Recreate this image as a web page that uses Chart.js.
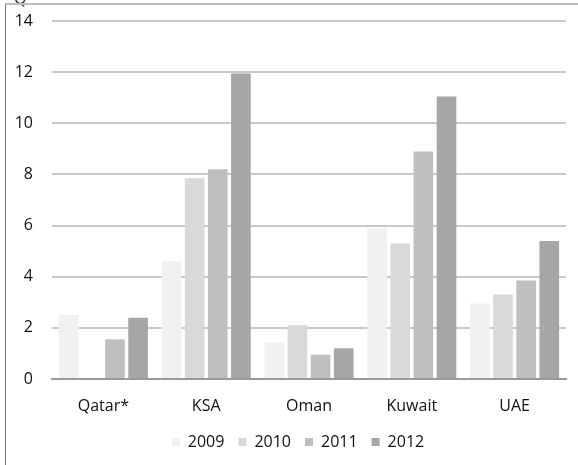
<!DOCTYPE html>
<html>
<head>
<meta charset="utf-8">
<script src="https://cdn.jsdelivr.net/npm/chart.js@4.4.1/dist/chart.umd.min.js"></script>
<style>
  body { margin: 0; background: #fff; overflow: hidden; }
  #wrap { position: relative; width: 578px; height: 465px; }
  #frame {
    position: absolute; left: 5px; top: 3px; width: 573px; height: 462px;
    border-left: 1px solid #777; border-top: 2px solid #bdbdbd;
  }
  #cut { position: absolute; left: 14px; top: -13px; font: 16px "Open Sans"; color: #222; }
  canvas { position: absolute; left: 0; top: 0; }
</style>
</head>
<body>
<div id="wrap">
  <span id="cut">Q</span>
  <div id="frame"></div>
  <canvas id="chart" width="578" height="465"></canvas>
</div>
<script>
const countries = ['Qatar*', 'KSA', 'Oman', 'Kuwait', 'UAE'];
const years = ['2009', '2010', '2011', '2012'];

const values2009 = [2.5, 4.6, 1.45, 5.9, 2.95];
const values2010 = [null, 7.85, 2.1, 5.3, 3.3];
const values2011 = [1.55, 8.2, 0.95, 8.9, 3.85];
const values2012 = [2.4, 11.95, 1.2, 11.05, 5.4];

const yTicks = [0, 2, 4, 6, 8, 10, 12, 14];

const greys = ['#f1f1f1', '#d9d9d9', '#bfbfbf', '#a6a6a6'];
const series = [values2009, values2010, values2011, values2012];

const fontFamily = '"Open Sans", sans-serif';

// keep the legend box a fixed height so the plot area lines up,
// and nudge it a little left like in the original
const legendBox = {
  id: 'legendBox',
  afterInit(chart) {
    const fit = chart.legend.fit;
    chart.legend.fit = function () {
      fit.call(this);
      this.height = 45;
    };
  },
  afterLayout(chart) {
    chart.legend.left -= 11;
    chart.legend.right -= 11;
  }
};

new Chart(document.getElementById('chart'), {
  type: 'bar',
  data: {
    labels: countries,
    datasets: years.map(function (y, i) {
      return {
        label: y,
        data: series[i],
        backgroundColor: greys[i],
        borderWidth: 0,
        categoryPercentage: 0.9,
        barPercentage: 0.85
      };
    })
  },
  options: {
    responsive: false,
    animation: false,
    layout: { padding: { top: 21, right: 12, bottom: 0, left: 0 } },
    plugins: {
      legend: {
        position: 'bottom',
        fullSize: false,
        labels: {
          boxWidth: 8,
          boxHeight: 8,
          padding: 14,
          color: '#111',
          font: { family: fontFamily, size: 16 }
        }
      },
      tooltip: { enabled: false }
    },
    scales: {
      x: {
        afterFit: function (scale) { scale.height = 41; },
        grid: { display: false, drawTicks: true, tickLength: 18, tickColor: 'rgba(0,0,0,0)' },
        border: { display: true, color: '#999', width: 2 },
        ticks: { padding: 0, color: '#111', font: { family: fontFamily, size: 16 } }
      },
      y: {
        min: 0,
        max: 14,
        afterBuildTicks: function (scale) {
          scale.ticks = yTicks.map(function (v) { return { value: v }; });
        },
        afterFit: function (scale) { scale.width = 52; },
        grid: { color: '#c9c9c9', lineWidth: 2, drawTicks: true, tickLength: 19, tickColor: 'rgba(0,0,0,0)' },
        border: { display: false },
        ticks: { padding: 0, color: '#111', font: { family: fontFamily, size: 16 } }
      }
    }
  },
  plugins: [legendBox]
});
</script>
</body>
</html>
